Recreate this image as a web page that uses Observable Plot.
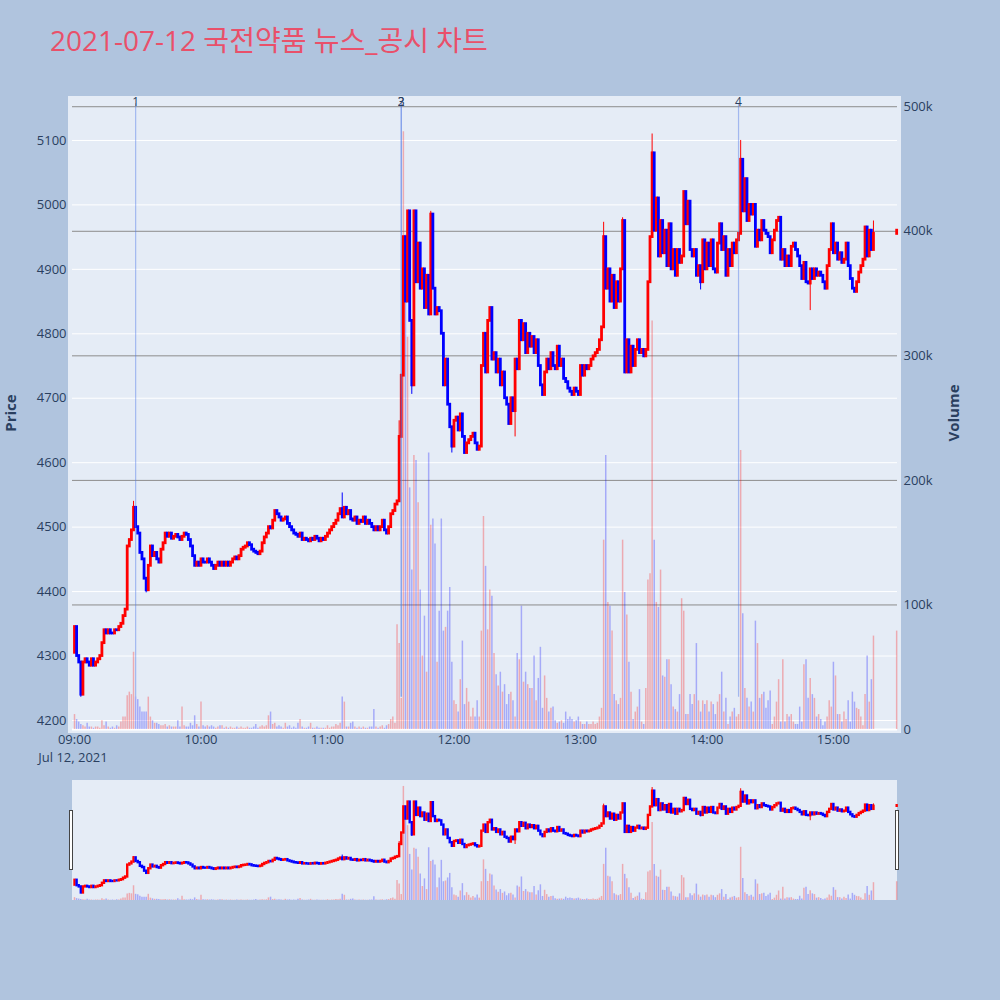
<!DOCTYPE html>
<html>
<head>
<meta charset="utf-8">
<script src="https://cdn.jsdelivr.net/npm/d3@7"></script>
<script src="https://cdn.jsdelivr.net/npm/@observablehq/plot@0.6"></script>
<style>
  body { margin: 0; background: #b0c4de; }
  #chart { position: relative; width: 1000px; height: 1000px; background: #b0c4de; overflow: hidden;
    font-family: "Open Sans", "Noto Sans CJK KR", sans-serif; }
  #chart svg { position: absolute; left: 0; }
  #title { position: absolute; left: 50px; top: 22px; font-size: 28px; line-height: 36px; color: #e9506a; white-space: nowrap; }
  .axis-title { position: absolute; font-size: 15px; font-weight: bold; color: #2a3f5f; transform: translate(-50%, -50%) rotate(-90deg); white-space: nowrap; }
  #date { position: absolute; left: 73px; top: 757px; transform: translate(-50%, -50%); font-size: 13px; color: #2a3f5f; white-space: nowrap; }
  .panel { position: absolute; background: #e5ecf6; }
  .handle { position: absolute; width: 2px; height: 58px; background: #fff; border: 1px solid #444; }
</style>
</head>
<body>
<div id="chart">
  <div id="title">2021-07-12 국전약품 뉴스_공시 차트</div>
  <div class="panel" style="left:68px;top:96px;width:833px;height:637px"></div>
  <div class="panel" style="left:72px;top:780px;width:825px;height:120px"></div>
  <div class="axis-title" style="left:10px;top:413px">Price</div>
  <div class="axis-title" style="left:953px;top:413px">Volume</div>
  <div id="date"></div>
</div>
<script>
// 1분봉 종가 (09:00부터 분 단위, 장 마감 동시호가 전 빈 구간은 null)
const openPrice = 4305;
const closes = [
  4345, 4300, 4290, 4240, 4290, 4295, 4290, 4285, 4295, 4285,
  4290, 4295, 4300, 4320, 4340, 4335, 4340, 4335, 4335, 4340,
  4340, 4345, 4350, 4362, 4372, 4470, 4480, 4495, 4530, 4500,
  4490, 4460, 4450, 4420, 4402, 4440, 4470, 4455, 4460, 4450,
  4445, 4465, 4475, 4490, 4485, 4490, 4482, 4485, 4488, 4484,
  4480, 4485, 4490, 4488, 4480, 4470, 4455, 4440, 4445, 4440,
  4450, 4445, 4445, 4450, 4445, 4440, 4435, 4440, 4445, 4440,
  4445, 4440, 4445, 4440, 4445, 4450, 4453, 4450, 4455, 4465,
  4468, 4470, 4475, 4472, 4465, 4462, 4460, 4458, 4462, 4475,
  4484, 4490, 4500, 4498, 4510, 4525, 4520, 4515, 4510, 4512,
  4515, 4505, 4500, 4495, 4490, 4488, 4485, 4490, 4480, 4482,
  4480, 4478, 4482, 4480, 4485, 4482, 4478, 4482, 4480, 4485,
  4490, 4495, 4500, 4505, 4510, 4520, 4528, 4515, 4530, 4520,
  4525, 4512, 4510, 4515, 4505, 4510, 4508, 4515, 4505, 4510,
  4505, 4500, 4495, 4500, 4495, 4500, 4510, 4495, 4490, 4500,
  4520, 4525, 4535, 4540, 4640, 4735, 4950, 4850, 4990, 4820,
  4720, 4990, 4880, 4940, 4870, 4900, 4840, 4890, 4830, 4985,
  4870, 4830, 4840, 4835, 4800, 4720, 4760, 4690, 4655, 4625,
  4665, 4670, 4650, 4675, 4640, 4615, 4630, 4635, 4640, 4645,
  4630, 4620, 4625, 4750, 4800, 4740, 4820, 4840, 4760, 4770,
  4740, 4760, 4720, 4740, 4700, 4690, 4660, 4700, 4680, 4760,
  4745, 4820, 4790, 4815, 4770, 4800, 4780, 4795, 4770, 4790,
  4750, 4720, 4705, 4740, 4760, 4745, 4770, 4750, 4745, 4780,
  4750, 4760, 4730, 4725, 4715, 4710, 4705, 4715, 4710, 4705,
  4750, 4735, 4750, 4745, 4750, 4760, 4765, 4770, 4775, 4790,
  4810, 4950, 4870, 4900, 4850, 4890, 4840, 4880, 4850, 4900,
  4975, 4740, 4790, 4740, 4780, 4750, 4775, 4790, 4770, 4775,
  4765, 4775, 4880, 4950, 5080, 4960, 5010, 4920, 4975, 4925,
  4960, 4905, 4970, 4900, 4930, 4890, 4930, 4910, 4920, 5020,
  4970, 5005, 4930, 4920, 4930, 4890, 4905, 4880, 4945, 4900,
  4940, 4905, 4945, 4900, 4895, 4940, 4970, 4930, 4950, 4890,
  4930, 4905, 4940, 4925, 4945, 4955, 5070, 4990, 5040, 4975,
  5000, 4985, 5000, 4935, 4960, 4945, 4975, 4960, 4955, 4950,
  4925, 4945, 4960, 4975, 4980, 4915, 4930, 4905, 4920, 4905,
  4935, 4940, 4930, 4920, 4905, 4885, 4910, 4880, 4878, 4900,
  4885, 4900, 4890, 4895, 4890, 4880, 4870, 4905, 4930, 4970,
  4925, 4940, 4915, 4925, 4910, 4915, 4940, 4905, 4885, 4870,
  4865, 4880, 4895, 4905, 4915, 4965, 4920, 4960, 4930, 4955,
  null, null, null, null, null, null, null, null, null, null,
  4960
];
// 1분 거래량 (천 주)
const volumesK = [
  12, 8, 6, 4, 3, 2, 5, 2, 2, 1,
  2, 2, 1, 7, 3, 6, 2, 1, 2, 1,
  3, 2, 6, 10, 10, 27, 30, 28, 62, 26,
  24, 18, 14, 14, 14, 26, 10, 7, 5, 5,
  4, 3, 3, 4, 2, 3, 2, 2, 2, 7,
  2, 18, 3, 2, 2, 5, 3, 11, 4, 2,
  22, 3, 2, 3, 2, 3, 2, 1, 2, 3,
  3, 1, 2, 1, 2, 1, 1, 2, 1, 2,
  1, 1, 2, 1, 1, 2, 4, 1, 2, 3,
  2, 3, 11, 14, 4, 5, 2, 3, 2, 1,
  5, 2, 3, 1, 2, 1, 5, 8, 2, 1,
  1, 2, 5, 1, 1, 2, 1, 1, 1, 1,
  3, 1, 2, 2, 4, 3, 5, 26, 22, 2,
  2, 5, 6, 2, 1, 2, 1, 2, 1, 1,
  2, 2, 16, 2, 1, 2, 3, 1, 3, 4,
  8, 10, 5, 84, 69, 25, 480, 397, 315, 194,
  128, 220, 216, 182, 112, 59, 91, 46, 222, 164,
  169, 149, 54, 95, 169, 79, 82, 95, 114, 54,
  23, 20, 14, 40, 71, 20, 33, 22, 10, 17,
  10, 23, 10, 79, 171, 131, 80, 112, 107, 61,
  44, 35, 46, 30, 36, 20, 28, 30, 23, 10,
  61, 56, 99, 38, 46, 36, 33, 33, 59, 23,
  41, 66, 17, 43, 25, 14, 17, 18, 7, 5,
  6, 7, 5, 14, 8, 10, 8, 6, 7, 10,
  6, 4, 4, 6, 4, 4, 6, 4, 5, 10,
  17, 152, 220, 102, 99, 79, 28, 23, 20, 25,
  152, 110, 92, 54, 30, 8, 14, 18, 32, 6,
  4, 33, 120, 125, 328, 152, 102, 98, 128, 43,
  42, 56, 56, 36, 18, 16, 14, 28, 105, 95,
  12, 12, 28, 20, 28, 69, 23, 14, 23, 20,
  23, 14, 22, 20, 12, 22, 28, 46, 14, 25,
  4, 10, 14, 17, 10, 12, 224, 93, 33, 25,
  18, 22, 14, 87, 69, 25, 28, 30, 17, 23,
  31, 4, 10, 22, 40, 6, 56, 6, 12, 10,
  12, 6, 4, 4, 18, 6, 52, 56, 25, 41,
  28, 25, 10, 12, 8, 3, 6, 10, 23, 18,
  54, 43, 12, 12, 6, 14, 8, 23, 6, 30,
  22, 17, 16, 10, 3, 28, 59, 22, 40, 75,
  null, null, null, null, null, null, null, null, null, null,
  79
];
// 꼬리 (분, 가격)
const wickHighs = [[28, 4540], [127, 4553], [154, 4665], [169, 4990], [251, 4973], [260, 4980], [274, 5110], [316, 5100], [379, 4975]];
const wickLows = [[3, 4236], [34, 4398], [160, 4706], [179, 4615], [209, 4640], [297, 4868], [349, 4836]];
// 뉴스/공시 시점
const eventLabels = ["1", "2", "3", "4"];
const eventTimes = ["09:29", "11:35", "11:35", "14:15"];
const dayLow = 4236;
const priceTicks = [4200, 4300, 4400, 4500, 4600, 4700, 4800, 4900, 5000, 5100];
const volumeTicks = [0, 100000, 200000, 300000, 400000, 500000];
const volumeTickLabels = ["0", "100k", "200k", "300k", "400k", "500k"];
const hourTicks = ["09:00", "10:00", "11:00", "12:00", "13:00", "14:00", "15:00"];
const dateLabel = "Jul 12, 2021";

const day = Date.UTC(2021, 6, 12, 9, 0);
const at = m => new Date(day + m * 60000);
const toMin = s => { const [h, m] = s.split(":").map(Number); return (h - 9) * 60 + m; };

// 캔들 만들기 (시가 = 직전 종가)
const candles = [];
let prev = openPrice;
closes.forEach((c, i) => {
  if (c == null) return;
  const o = prev;
  candles.push({
    minute: i, t: at(i), open: o, close: c,
    high: Math.max(o, c), low: Math.min(o, c),
    volume: volumesK[i] * 1000,
    color: c > o ? "#ff0000" : "#0000ff"
  });
  prev = c;
});
const byMinute = new Map(candles.map(d => [d.minute, d]));
wickHighs.forEach(([m, v]) => { byMinute.get(m).high = v; });
wickLows.forEach(([m, v]) => { byMinute.get(m).low = v; });

const events = eventLabels.map((label, i) => ({label, t: at(toMin(eventTimes[i]))}));

const xDomain = [at(-0.95), at(390.4)];
const common = {
  width: 1000, marginLeft: 72, marginRight: 103,
  style: {background: "transparent", overflow: "visible", fontFamily: "'Open Sans', sans-serif"}
};
const mainFrame = {height: 780, marginTop: 100, marginBottom: 51};
const sliderFrame = {height: 120, marginTop: 0, marginBottom: 0};
const tickColor = "#2a3f5f";

function candleMarks(bodyWidth) {
  return [
    Plot.ruleX(candles, {x: "t", y1: "low", y2: "high", stroke: "color", strokeWidth: 1}),
    Plot.ruleX(candles, {x: "t", y1: "open", y2: "close", stroke: "color", strokeWidth: bodyWidth, strokeLinecap: "square"})
  ];
}

function volumeMarks() {
  return [
    Plot.ruleX(candles, {x: "t", y1: 0, y2: "volume", stroke: "color", strokeOpacity: 0.28, strokeWidth: 1.5})
  ];
}

// 가격 격자 + 축
const priceGrid = Plot.plot({
  ...common, ...mainFrame,
  x: {type: "utc", domain: xDomain},
  y: {domain: [4186, 5162]},
  marks: [
    Plot.ruleY(priceTicks, {stroke: "#fff", strokeWidth: 1}),
    Plot.axisY({ticks: priceTicks, tickFormat: d => String(d), tickSize: 0, tickPadding: 6, fontSize: 13, color: tickColor, label: null}),
    Plot.axisX({
      ticks: hourTicks.map(s => at(toMin(s))), tickSize: 0, tickPadding: 5, fontSize: 13,
      color: tickColor, label: null, tickFormat: (d, i) => hourTicks[i]
    })
  ]
});

// 거래량
const volumePlot = Plot.plot({
  ...common, ...mainFrame,
  x: {type: "utc", domain: xDomain, axis: null},
  y: {domain: [0, 505000]},
  marks: [
    Plot.ruleY(volumeTicks.slice(1), {stroke: "#8c8c8c", strokeWidth: 1}),
    Plot.ruleY([0], {stroke: "#fff", strokeWidth: 2}),
    ...volumeMarks(),
    Plot.axisY({anchor: "right", ticks: volumeTicks, tickFormat: (d, i) => volumeTickLabels[i],
      tickSize: 0, tickPadding: 6, fontSize: 13, color: tickColor, label: null})
  ]
});

// 캔들 + 이벤트
const pricePlot = Plot.plot({
  ...common, ...mainFrame,
  x: {type: "utc", domain: xDomain, axis: null},
  y: {domain: [4186, 5162], axis: null},
  marks: [
    ...candleMarks(2.8),
    Plot.ruleX(events, {x: "t", y1: dayLow, y2: 5157, stroke: "#5078e6", strokeOpacity: 0.45, strokeWidth: 1.2}),
    Plot.text(events, {x: "t", frameAnchor: "top", dy: -3, text: "label", fontSize: 12, fill: tickColor})
  ]
});

// 레인지 슬라이더
const sliderVolume = Plot.plot({
  ...common, ...sliderFrame,
  x: {type: "utc", domain: xDomain, axis: null},
  y: {domain: [0, 505000], axis: null},
  marks: volumeMarks()
});
const sliderPrice = Plot.plot({
  ...common, ...sliderFrame,
  x: {type: "utc", domain: xDomain, axis: null},
  y: {domain: [4178, 5168], axis: null},
  marks: candleMarks(2.4)
});

document.getElementById("date").textContent = dateLabel;
const chart = document.getElementById("chart");
[[priceGrid, 0], [volumePlot, 0], [pricePlot, 0], [sliderVolume, 780], [sliderPrice, 780]].forEach(([svg, top]) => {
  svg.style.top = top + "px";
  chart.appendChild(svg);
});
[69, 895].forEach(left => {
  const h = document.createElement("div");
  h.className = "handle";
  h.style.left = left + "px";
  h.style.top = "810px";
  chart.appendChild(h);
});
</script>
</body>
</html>
